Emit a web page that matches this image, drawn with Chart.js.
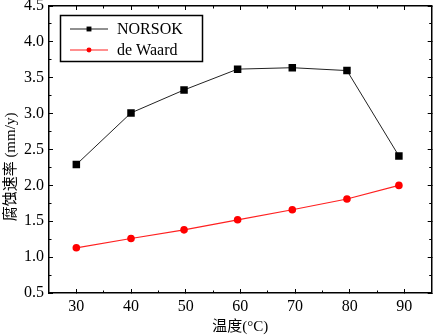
<!DOCTYPE html>
<html>
<head>
<meta charset="utf-8">
<script src="https://cdn.jsdelivr.net/npm/chart.js@4.4.0/dist/chart.umd.min.js"></script>
<style>
    html, body { margin: 0; padding: 0; background: #fff; }
    canvas { display: block; }
</style>
</head>
<body>
<canvas id="chart1" width="437" height="336"></canvas>
<script>
// data
const temps = [30, 40, 49.7, 59.5, 69.5, 79.5, 89];
const norsok = [2.29, 3.01, 3.33, 3.62, 3.64, 3.60, 2.41];
const deWaard = [1.13, 1.26, 1.38, 1.52, 1.66, 1.81, 2.00];

const xMajor = [30, 40, 50, 60, 70, 80, 90];
const xMinor = [35, 45, 55, 65, 75, 85];
const yMajor = [0.5, 1.0, 1.5, 2.0, 2.5, 3.0, 3.5, 4.0, 4.5];
const yMinor = [0.75, 1.25, 1.75, 2.25, 2.75, 3.25, 3.75, 4.25];

const FONT = "'Liberation Serif', 'Times New Roman', 'Noto Sans CJK SC', serif";

Chart.defaults.color = '#000';
Chart.defaults.font.family = FONT;

const toPoints = (xs, ys) => xs.map((x, i) => ({ x: x, y: ys[i] }));

// keep the plot area fixed: no extra room for overhanging labels
function noPad(s) {
    s.paddingTop = 0;
    s.paddingBottom = 0;
    s.paddingLeft = 0;
    s.paddingRight = 0;
}

// helper: an extra axis that only draws inward tick marks
function tickAxis(position, list, len, weight, showBorder) {
    const horiz = position === 'top' || position === 'bottom';
    return {
        type: 'linear',
        position: position,
        weight: weight,
        min: horiz ? 25 : 0.5,
        max: horiz ? 95 : 4.5,
        afterBuildTicks: (s) => { s.ticks = list.map(v => ({ value: v })); },
        afterFit: (s) => { if (horiz) s.height = 0; else s.width = 0; noPad(s); },
        grid: { drawOnChartArea: false, tickLength: -len, color: '#000', lineWidth: 1 },
        border: { display: showBorder, color: '#000', width: 1.5 },
        ticks: { display: false },
    };
}

// legend box + y title
const extras = {
    id: 'extras',
    afterDraw(chart) {
        const ctx = chart.ctx;
        ctx.save();
        ctx.strokeStyle = '#000';
        ctx.lineWidth = 1.5;
        ctx.strokeRect(60.5, 15.5, 142, 46);

        const rows = [29, 50];
        chart.data.datasets.forEach((ds, i) => {
            const y = rows[i];
            ctx.strokeStyle = ds.borderColor;
            ctx.lineWidth = 1.2;
            ctx.beginPath();
            ctx.moveTo(70, y);
            ctx.lineTo(108, y);
            ctx.stroke();
            ctx.fillStyle = ds.backgroundColor;
            Chart.helpers.drawPoint(ctx, {
                pointStyle: ds.pointStyle, radius: ds.pointRadius * 0.65, rotation: 0, borderWidth: 0
            }, 89, y);
            ctx.fillStyle = '#000';
            ctx.font = '16px ' + FONT;
            ctx.textAlign = 'left';
            ctx.textBaseline = 'middle';
            ctx.fillText(ds.label, 117, y + 1);
        });

        ctx.translate(11, 167);
        ctx.rotate(-Math.PI / 2);
        ctx.textAlign = 'center';
        ctx.textBaseline = 'middle';
        ctx.font = '15px ' + FONT;
        ctx.fillText('腐蚀速率 (mm/y)', 0, 0);
        ctx.restore();
    }
};

// CHART - 1
const chart1 = new Chart(document.querySelector('#chart1'), {
    type: 'line',
    data: {
        datasets: [
            {
                label: 'NORSOK',
                data: toPoints(temps, norsok),
                borderColor: '#222',
                backgroundColor: '#000',
                pointStyle: 'rect',
                pointRadius: 5.3,
                pointBorderWidth: 0,
                borderWidth: 1,
                tension: 0,
            },
            {
                label: 'de Waard',
                data: toPoints(temps, deWaard),
                borderColor: '#ff2020',
                backgroundColor: '#ff0000',
                pointStyle: 'circle',
                pointRadius: 3.8,
                pointBorderWidth: 0,
                borderWidth: 1.2,
                tension: 0,
            },
        ],
    },
    options: {
        responsive: false,
        animation: false,
        layout: { padding: { top: 6, right: 3, left: 0, bottom: 0 } },
        scales: {
            x: {
                type: 'linear',
                position: 'bottom',
                weight: 1,
                min: 25,
                max: 95,
                afterBuildTicks: (s) => { s.ticks = xMajor.map(v => ({ value: v })); },
                afterFit: (s) => { s.height = 43; noPad(s); },
                grid: { drawOnChartArea: false, tickLength: -4, color: '#000', lineWidth: 1 },
                border: { color: '#000', width: 1.5 },
                ticks: {
                    padding: 8,
                    autoSkip: false,
                    maxRotation: 0,
                    font: { size: 16 },
                    callback: (v) => v,
                },
                title: {
                    display: true,
                    text: '温度(°C)',
                    font: { size: 15 },
                    padding: 0,
                },
            },
            xMinor: tickAxis('bottom', xMinor, 2.5, 0, false),
            xTop: tickAxis('top', xMajor, 4, 1, true),
            xTopMinor: tickAxis('top', xMinor, 2.5, 0, false),
            y: {
                type: 'linear',
                position: 'left',
                weight: 1,
                min: 0.5,
                max: 4.5,
                afterBuildTicks: (s) => { s.ticks = yMajor.map(v => ({ value: v })); },
                afterFit: (s) => { s.width = 49; noPad(s); },
                grid: { drawOnChartArea: false, tickLength: -4, color: '#000', lineWidth: 1 },
                border: { color: '#000', width: 1.5 },
                ticks: {
                    padding: 9,
                    autoSkip: false,
                    font: { size: 16 },
                    callback: (v) => v.toFixed(1),
                },
            },
            yMinor: tickAxis('left', yMinor, 2.5, 0, false),
            yRight: tickAxis('right', yMajor, 4, 1, true),
            yRightMinor: tickAxis('right', yMinor, 2.5, 0, false),
        },
        plugins: {
            legend: { display: false },
            tooltip: { enabled: false },
        },
    },
    plugins: [extras],
});
</script>
</body>
</html>
